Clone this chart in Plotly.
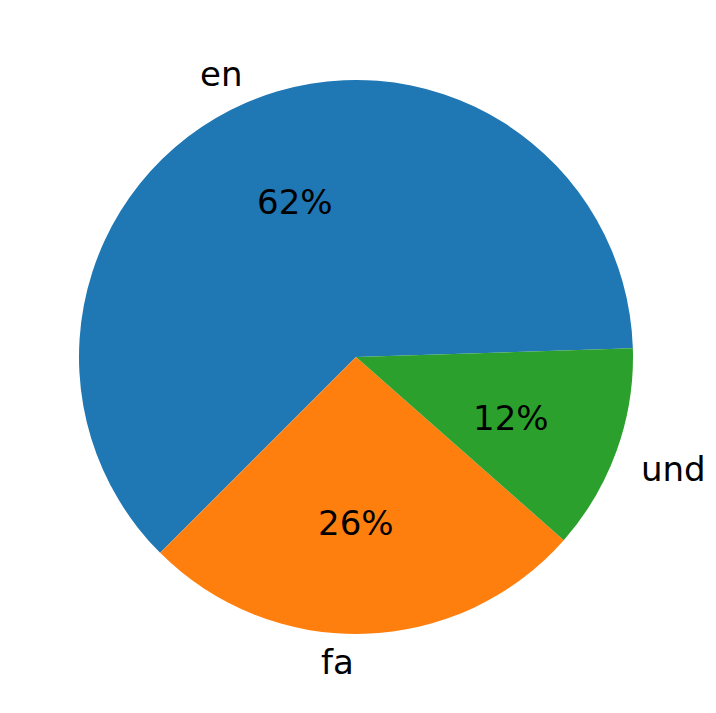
import numpy as np
import plotly.graph_objects as go

labels = ["en", "fa", "und"]
values = [62, 26, 12]
colors = ["#1f77b4", "#ff7f0e", "#2ca02c"]

fig = go.Figure(go.Pie(labels=labels, values=values, sort=False, direction="counterclockwise",
                       rotation=225, marker=dict(colors=colors), textinfo="none",
                       hoverinfo="label+percent", showlegend=False))

fr = np.array(values) / sum(values)
cum = np.concatenate([[0], np.cumsum(fr)])
font = dict(family="DejaVu Sans", size=34, color="black")
anns = []
for i, lab in enumerate(labels):
    a = np.pi * (cum[i] + cum[i + 1])
    c, s = np.cos(a), np.sin(a)
    anns.append(dict(x=0.5 + 0.5 * 0.6 * c, y=0.5 + 0.5 * 0.6 * s, xref="paper", yref="paper",
                     text=f"{fr[i]*100:.0f}%", showarrow=False, font=font,
                     xanchor="center", yanchor="middle"))
    anns.append(dict(x=0.5 + 0.5 * 1.1 * c, y=0.5 + 0.5 * 1.1 * s, xref="paper", yref="paper",
                     text=lab, showarrow=False, font=font,
                     xanchor="left" if c > 0 else "right", yanchor="middle"))

fig.update_layout(width=716, height=713, margin=dict(l=71, r=91, t=72, b=87),
                  paper_bgcolor="white", plot_bgcolor="white", annotations=anns)
fig.write_html("out.html")
